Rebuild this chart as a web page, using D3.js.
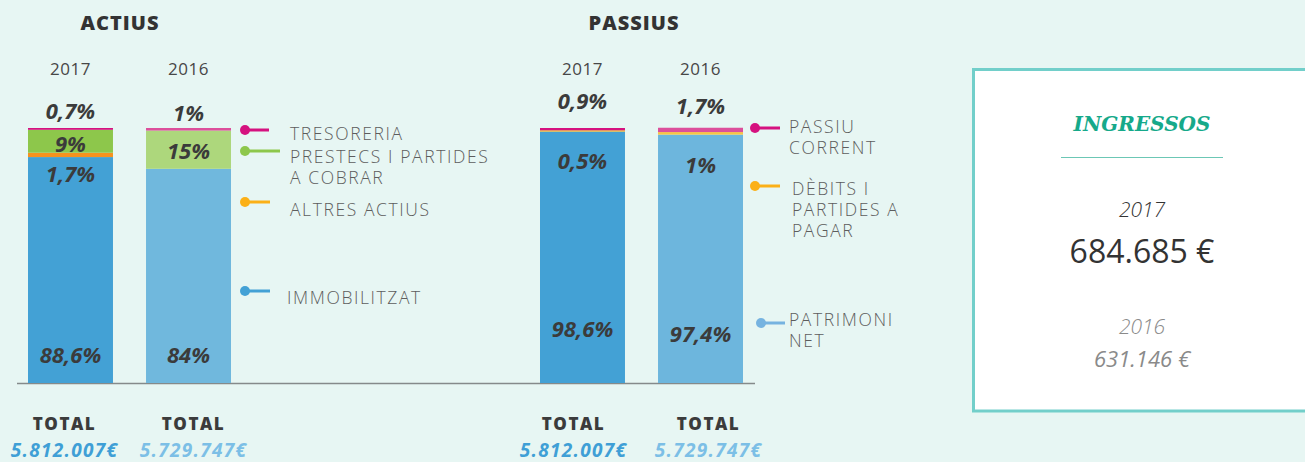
<!DOCTYPE html>
<html>
<head>
<meta charset="utf-8">
<script src="https://cdn.jsdelivr.net/npm/d3@7"></script>
<style>
  html, body { margin: 0; padding: 0; background: #e7f6f3; }
  svg { display: block; font-family: "Open Sans", sans-serif; }
</style>
</head>
<body>
<svg id="chart" width="1305" height="462"></svg>
<script>
// ---- data -------------------------------------------------------------
const years = ["2017", "2016"];

// Actius (% of total assets), bottom to top
const actiusSeries = ["IMMOBILITZAT", "ALTRES ACTIUS", "PRESTECS I PARTIDES A COBRAR", "TRESORERIA"];
const actius2017 = [88.6, 1.7, 9, 0.7];
const actius2016 = [84, 0, 15, 1];

// Passius (% of total liabilities), bottom to top
const passiusSeries = ["PATRIMONI NET", "DÈBITS I PARTIDES A PAGAR", "PASSIU CORRENT"];
const passius2017 = [98.6, 0.5, 0.9];
const passius2016 = [97.4, 1, 1.7];

const totals = ["5.812.007€", "5.729.747€"];
const ingressosYears = ["2017", "2016"];
const ingressosValues = ["684.685 €", "631.146 €"];

// ---- styling ----------------------------------------------------------
const colors2017 = {
  "IMMOBILITZAT": "#43a1d5", "ALTRES ACTIUS": "#f6921e",
  "PRESTECS I PARTIDES A COBRAR": "#8dc74b", "TRESORERIA": "#d5127f",
  "PATRIMONI NET": "#43a1d5", "DÈBITS I PARTIDES A PAGAR": "#f8b419",
  "PASSIU CORRENT": "#d5127f"
};
const colors2016 = {
  "IMMOBILITZAT": "#70b8dd", "ALTRES ACTIUS": "#f8b44c",
  "PRESTECS I PARTIDES A COBRAR": "#add77c", "TRESORERIA": "#dc4f9b",
  "PATRIMONI NET": "#6db6dd", "DÈBITS I PARTIDES A PAGAR": "#f8c445",
  "PASSIU CORRENT": "#dc4f9b"
};
const legendColors = {
  "TRESORERIA": "#d5127f", "PRESTECS I PARTIDES A COBRAR": "#8dc74b",
  "ALTRES ACTIUS": "#fbb017", "IMMOBILITZAT": "#43a1d5",
  "PASSIU CORRENT": "#d5127f", "DÈBITS I PARTIDES A PAGAR": "#fbb017",
  "PATRIMONI NET": "#76b3e0"
};
const totalColors = ["#3f9fd6", "#7cbfe6"];
const labelColor = "#3b3b3b";

const svg = d3.select("#chart");
const W = 1305, H = 462;
svg.append("rect").attr("width", W).attr("height", H).attr("fill", "#e7f6f3");

const y = d3.scaleLinear().domain([0, 100]).range([383, 128]);
const fmtPct = v => String(v).replace(".", ",") + "%";

// ---- panels -----------------------------------------------------------
const panels = [
  {
    title: "ACTIUS", titleX: 120, range: [28, 231],
    series: actiusSeries, values: [actius2017, actius2016],
    totalShift: [-6, 5],
    // where each stacked segment's label sits
    labelRule: [
      [{ at: "bottom", dy: -29 }, { at: "belowTop", dy: 20 }, { at: "center", dy: 2 }, { at: "above", dy: -18 }],
      [{ at: "bottom", dy: -29 }, null, { at: "center", dy: 0 }, { at: "above", dy: -16 }]
    ],
    legend: [
      { s: "TRESORERIA", dotX: 245, dotY: 130, lineTo: 269, textX: 290, lines: ["TRESORERIA"], textY: 133 },
      { s: "PRESTECS I PARTIDES A COBRAR", dotX: 245, dotY: 151, lineTo: 280, textX: 290, lines: ["PRESTECS I PARTIDES", "A COBRAR"], textY: 156 },
      { s: "ALTRES ACTIUS", dotX: 245, dotY: 202, lineTo: 270, textX: 290, lines: ["ALTRES ACTIUS"], textY: 209 },
      { s: "IMMOBILITZAT", dotX: 245, dotY: 291, lineTo: 270, textX: 287, lines: ["IMMOBILITZAT"], textY: 297 }
    ]
  },
  {
    title: "PASSIUS", titleX: 634, range: [540, 743],
    series: passiusSeries, values: [passius2017, passius2016],
    totalShift: [-9, 8],
    labelRule: [
      [{ at: "bottom", dy: -55 }, { at: "belowTop", dy: 30 }, { at: "above", dy: -28 }],
      [{ at: "bottom", dy: -50 }, { at: "belowTop", dy: 32 }, { at: "above", dy: -23 }]
    ],
    legend: [
      { s: "PASSIU CORRENT", dotX: 755, dotY: 128, lineTo: 780, textX: 789, lines: ["PASSIU", "CORRENT"], textY: 126 },
      { s: "DÈBITS I PARTIDES A PAGAR", dotX: 755, dotY: 186, lineTo: 780, textX: 792, lines: ["DÈBITS I", "PARTIDES A", "PAGAR"], textY: 188 },
      { s: "PATRIMONI NET", dotX: 761, dotY: 323, lineTo: 785, textX: 789, lines: ["PATRIMONI", "NET"], textY: 319 }
    ]
  }
];

// baseline shared by both panels
svg.append("line")
  .attr("x1", 17).attr("x2", 755).attr("y1", y(0) + 0.5).attr("y2", y(0) + 0.5)
  .attr("stroke", "#858a8a").attr("stroke-width", 1.5);

panels.forEach(p => {
  const x = d3.scaleBand().domain(years).range(p.range).paddingInner(0.28).paddingOuter(0);
  const g = svg.append("g");

  // title
  g.append("text").attr("x", p.titleX).attr("y", 22).attr("text-anchor", "middle")
    .attr("dominant-baseline", "central")
    .attr("font-size", 20).attr("font-weight", 800).attr("letter-spacing", 1)
    .attr("fill", "#333").text(p.title);

  years.forEach((yr, i) => {
    const vals = p.values[i];
    const rows = [{}];
    p.series.forEach((s, k) => rows[0][s] = vals[k]);
    const stacked = d3.stack().keys(p.series)(rows);
    const cx = x(yr) + x.bandwidth() / 2;
    const palette = i === 0 ? colors2017 : colors2016;

    // year heading
    g.append("text").attr("x", cx).attr("y", 68).attr("text-anchor", "middle")
      .attr("dominant-baseline", "central")
      .attr("font-size", 17).attr("letter-spacing", 0.5).attr("fill", "#474747").text(yr);

    // stacked segments
    g.selectAll(null).data(stacked.filter(d => d[0][1] - d[0][0] > 0)).join("rect")
      .attr("x", x(yr)).attr("width", x.bandwidth())
      .attr("y", d => y(d[0][1])).attr("height", d => y(d[0][0]) - y(d[0][1]))
      .attr("fill", d => palette[d.key]);

    // value labels
    stacked.forEach((d, k) => {
      const rule = p.labelRule[i][k];
      if (!rule) return;
      const v = vals[k];
      const top = y(d[0][1]), bot = y(d[0][0]);
      let ly;
      if (rule.at === "bottom") ly = bot + rule.dy;
      else if (rule.at === "center") ly = (top + bot) / 2 + rule.dy;
      else if (rule.at === "belowTop") ly = top + rule.dy;
      else ly = y(100) + rule.dy;
      g.append("text").attr("x", cx).attr("y", ly).attr("text-anchor", "middle")
        .attr("dominant-baseline", "central")
        .attr("font-size", 22).attr("font-weight", 700).attr("font-style", "italic")
        .attr("fill", labelColor).text(fmtPct(v));
    });

    // totals
    const tx = cx + p.totalShift[i];
    g.append("text").attr("x", tx).attr("y", 423).attr("text-anchor", "middle")
      .attr("dominant-baseline", "central")
      .attr("font-size", 17).attr("font-weight", 800).attr("letter-spacing", 1.5)
      .attr("fill", "#3b3b3b").text("TOTAL");
    g.append("text").attr("x", tx).attr("y", 450).attr("text-anchor", "middle")
      .attr("dominant-baseline", "central")
      .attr("font-size", 19).attr("font-weight", 700).attr("font-style", "italic")
      .attr("letter-spacing", 1.3)
      .attr("fill", totalColors[i]).text(totals[i]);
  });

  // legend: dot + leader line, and a (possibly wrapped) label
  p.legend.forEach(l => {
    const c = legendColors[l.s];
    g.append("line").attr("x1", l.dotX).attr("x2", l.lineTo)
      .attr("y1", l.dotY).attr("y2", l.dotY).attr("stroke", c).attr("stroke-width", 3);
    g.append("circle").attr("cx", l.dotX).attr("cy", l.dotY).attr("r", 5).attr("fill", c);
    const t = g.append("text").attr("x", l.textX).attr("y", l.textY)
      .attr("dominant-baseline", "central")
      .attr("font-size", 17.5).attr("font-weight", 300).attr("letter-spacing", 1.6)
      .attr("fill", "#5d5d5d");
    l.lines.forEach((line, j) => {
      t.append("tspan").attr("x", l.textX).attr("y", l.textY + j * 21).text(line);
    });
  });
});

// ---- ingressos box -----------------------------------------------------
const box = svg.append("g");
box.append("rect").attr("x", 973.5).attr("y", 69.5).attr("width", 340).attr("height", 341.5)
  .attr("fill", "#ffffff").attr("stroke", "#72cfca").attr("stroke-width", 3);
const bx = 1142;
box.append("text").attr("x", bx).attr("y", 124).attr("text-anchor", "middle")
  .attr("dominant-baseline", "central")
  .style("font-family", "'DejaVu Serif', serif").attr("font-size", 20)
  .attr("font-weight", 700).attr("font-style", "italic")
  .attr("fill", "#16a98a").text("INGRESSOS");
box.append("line").attr("x1", 1061).attr("x2", 1223).attr("y1", 157.5).attr("y2", 157.5)
  .attr("stroke", "#6cc7b5").attr("stroke-width", 1.2);
box.append("text").attr("x", bx).attr("y", 209).attr("text-anchor", "middle")
  .attr("dominant-baseline", "central")
  .attr("font-size", 21).attr("font-style", "italic").attr("font-weight", 300)
  .attr("fill", "#333").text(ingressosYears[0]);
box.append("text").attr("x", bx).attr("y", 250).attr("text-anchor", "middle")
  .attr("dominant-baseline", "central")
  .attr("font-size", 32).attr("font-weight", 400)
  .attr("fill", "#333").text(ingressosValues[0]);
box.append("text").attr("x", bx).attr("y", 326).attr("text-anchor", "middle")
  .attr("dominant-baseline", "central")
  .attr("font-size", 21).attr("font-style", "italic").attr("font-weight", 300)
  .attr("fill", "#8a8a8a").text(ingressosYears[1]);
box.append("text").attr("x", bx).attr("y", 358).attr("text-anchor", "middle")
  .attr("dominant-baseline", "central")
  .attr("font-size", 22).attr("font-style", "italic").attr("font-weight", 400)
  .attr("fill", "#8a8a8a").text(ingressosValues[1]);
</script>
</body>
</html>
